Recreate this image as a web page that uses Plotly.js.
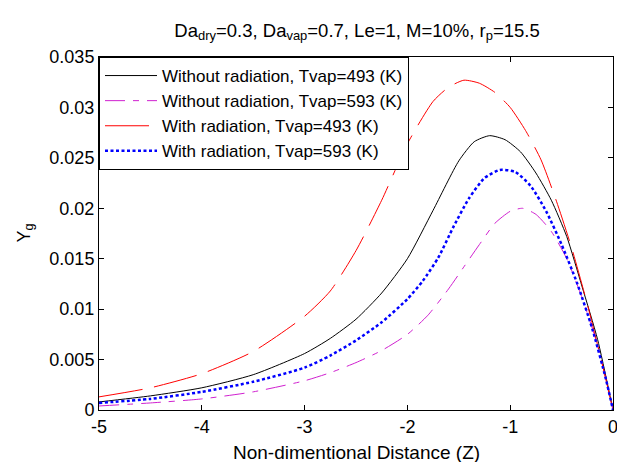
<!DOCTYPE html>
<html>
<head>
<meta charset="utf-8">
<script src="https://cdn.plot.ly/plotly-3.0.1.min.js"></script>
<style>html,body{margin:0;padding:0;background:#fff;}#chart{width:617px;height:462px;}</style>
</head>
<body>
<div id="chart"></div>
<script>
// Data
const zBlack = [-5, -4.5, -4, -3.5, -3, -2.75, -2.5, -2.25, -2, -1.75, -1.5, -1.35, -1.2, -1.05, -0.9, -0.75, -0.6, -0.45, -0.3, -0.15, 0];
const yBlack = [0.0008, 0.0014, 0.0022, 0.0035, 0.0056, 0.0071, 0.0090, 0.0116, 0.0150, 0.0198, 0.0247, 0.0266, 0.0272, 0.0268, 0.0256, 0.0235, 0.0208, 0.0172, 0.0122, 0.0070, 0];

const zMagenta = [-5, -4.5, -4, -3.5, -3, -2.75, -2.5, -2.25, -2, -1.8, -1.6, -1.45, -1.3, -1.15, -1.0, -0.88, -0.75, -0.6, -0.45, -0.3, -0.15, 0];
const yMagenta = [0.0004, 0.0007, 0.0011, 0.0018, 0.0029, 0.0037, 0.0047, 0.0059, 0.0075, 0.0094, 0.0120, 0.0142, 0.0164, 0.0185, 0.0197, 0.0200, 0.0194, 0.0177, 0.0150, 0.0111, 0.0064, 0];

const zRed = [-5, -4.5, -4, -3.5, -3, -2.75, -2.5, -2.25, -2, -1.75, -1.6, -1.45, -1.3, -1.15, -1.0, -0.85, -0.7, -0.55, -0.4, -0.25, -0.12, 0];
const yRed = [0.0013, 0.0022, 0.0036, 0.0058, 0.0093, 0.0118, 0.0158, 0.0208, 0.0264, 0.0306, 0.0320, 0.0327, 0.0324, 0.0315, 0.0300, 0.0277, 0.0248, 0.0207, 0.0160, 0.0105, 0.0052, 0];

const zBlue = [-5, -4.5, -4, -3.5, -3, -2.75, -2.5, -2.25, -2, -1.85, -1.7, -1.55, -1.4, -1.25, -1.1, -0.95, -0.8, -0.65, -0.5, -0.35, -0.2, -0.07, 0];
const yBlue = [0.0007, 0.0011, 0.0018, 0.0028, 0.0042, 0.0054, 0.0069, 0.0087, 0.0110, 0.0128, 0.0151, 0.0182, 0.0210, 0.0230, 0.0238, 0.0236, 0.0222, 0.0197, 0.0164, 0.0126, 0.0080, 0.0031, 0];

const seriesNames = [
  'Without radiation, Tvap=493 (K)',
  'Without radiation, Tvap=593 (K)',
  'With radiation, Tvap=493 (K)',
  'With radiation, Tvap=593 (K)'
];

const xTickVals = [-5, -4, -3, -2, -1, 0];
const xTickText = ['-5', '-4', '-3', '-2', '-1', '0'];
const yTickVals = [0, 0.005, 0.01, 0.015, 0.02, 0.025, 0.03, 0.035];
const yTickText = ['0', '0.005', '0.01', '0.015', '0.02', '0.025', '0.03', '0.035'];

const titleText = 'Da<sub>dry</sub>=0.3, Da<sub>vap</sub>=0.7, Le=1, M=10%, r<sub>p</sub>=15.5';
const xTitleText = 'Non-dimentional Distance (Z)';
const yTitleText = 'Y<sub>g</sub>';

const FONT = 'Liberation Sans, Arial, sans-serif';

const lineShape = {shape: 'spline', smoothing: 0.6};
const traces = [
  {x: zBlack, y: yBlack, name: seriesNames[0], mode: 'lines', line: Object.assign({color: '#000000', width: 1}, lineShape)},
  {x: zMagenta, y: yMagenta, name: seriesNames[1], mode: 'lines', line: Object.assign({color: '#d020d0', width: 1, dash: '20px,8px,6px,8px'}, lineShape)},
  {x: zRed, y: yRed, name: seriesNames[2], mode: 'lines', line: Object.assign({color: '#ff0000', width: 1, dash: '44px,12px'}, lineShape)},
  {x: zBlue, y: yBlue, name: seriesNames[3], mode: 'lines', line: Object.assign({color: '#0000ff', width: 2.5, dash: '3px,2.5px'}, lineShape)}
];

const axisCommon = {
  showline: true, linecolor: '#000', linewidth: 1, mirror: 'ticks',
  ticks: 'inside', ticklen: 5, tickcolor: '#000', tickwidth: 1,
  showgrid: false, zeroline: false, ticklabeloverflow: 'allow',
  tickfont: {family: FONT, size: 18, color: '#000'}
};

const layout = {
  width: 617, height: 462,
  paper_bgcolor: '#fff', plot_bgcolor: '#fff',
  margin: {l: 99, r: 4, t: 57, b: 52},
  font: {family: FONT, color: '#000'},
  title: {
    text: titleText,
    font: {family: FONT, size: 18.5, color: '#000'},
    x: 0.5787, xanchor: 'center', y: 0.935, yanchor: 'middle'
  },
  xaxis: Object.assign({}, axisCommon, {
    range: [-5, 0], tickmode: 'array', tickvals: xTickVals, ticktext: xTickText
  }),
  yaxis: Object.assign({}, axisCommon, {
    range: [0, 0.035], tickmode: 'array', tickvals: yTickVals, ticktext: yTickText
  }),
  annotations: [
    {text: xTitleText, xref: 'paper', yref: 'paper', x: 0.5, y: 0, xanchor: 'center', yanchor: 'middle',
     yshift: -42, showarrow: false, font: {family: FONT, size: 19, color: '#000'}},
    {text: yTitleText, xref: 'paper', yref: 'paper', x: 0, y: 0.5, xanchor: 'center', yanchor: 'middle',
     xshift: -74, textangle: -90, showarrow: false, font: {family: FONT, size: 18, color: '#000'}}
  ],
  showlegend: true,
  legend: {
    x: 0, y: 1, xanchor: 'left', yanchor: 'top',
    bgcolor: '#fff', bordercolor: '#000', borderwidth: 1,
    font: {family: FONT, size: 17, color: '#000'},
    itemwidth: 52,
    tracegroupgap: 0
  }
};

Plotly.newPlot('chart', traces, layout, {staticPlot: true, displayModeBar: false});
</script>
</body>
</html>
